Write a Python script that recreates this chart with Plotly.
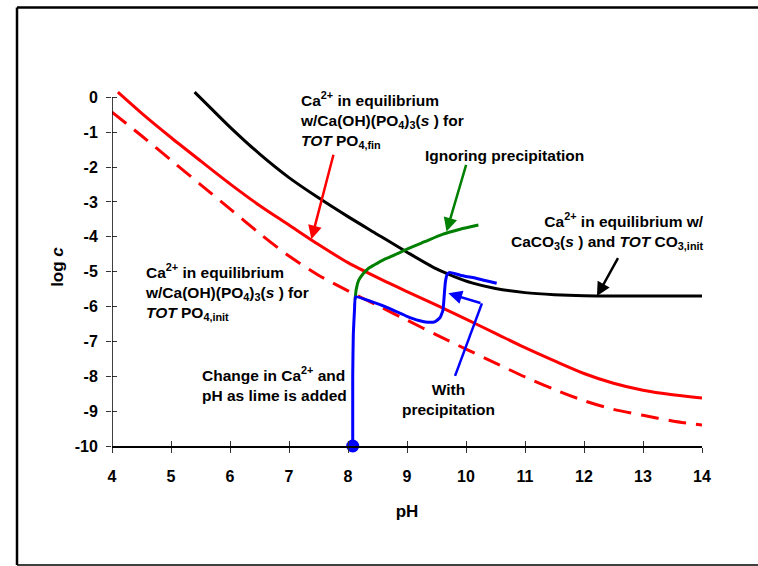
import plotly.graph_objects as go

# Ca2+ in equilibrium with CaCO3(s) and TOT CO3,init
ph_caco3 = [5.40, 5.70, 6.00, 6.50, 7.00, 7.50, 8.00, 8.50, 9.00, 9.50, 9.80, 10.10, 10.50, 11.00, 11.50, 12.00, 13.00, 14.00]
logc_caco3 = [0.15, -0.35, -0.85, -1.62, -2.30, -2.88, -3.42, -3.93, -4.44, -4.92, -5.14, -5.32, -5.48, -5.60, -5.66, -5.69, -5.70, -5.70]

# Ca2+ in equilibrium with hydroxyapatite for TOT PO4,fin
ph_po4_fin = [4.10, 4.50, 5.00, 5.50, 6.00, 6.50, 7.00, 7.50, 8.00, 8.50, 9.00, 9.50, 10.00, 10.50, 11.00, 11.50, 12.00, 12.50, 13.00, 13.50, 14.00]
logc_po4_fin = [0.15, -0.45, -1.15, -1.82, -2.48, -3.10, -3.66, -4.22, -4.74, -5.17, -5.57, -5.96, -6.36, -6.77, -7.18, -7.56, -7.92, -8.20, -8.40, -8.53, -8.62]

# Ca2+ in equilibrium with hydroxyapatite for TOT PO4,init
ph_po4_init = [4.00, 4.50, 5.00, 5.50, 6.00, 6.50, 7.00, 7.50, 8.00, 8.50, 9.00, 9.50, 10.00, 10.50, 11.00, 11.50, 12.00, 12.50, 13.00, 13.50, 14.00]
logc_po4_init = [-0.42, -1.10, -1.80, -2.50, -3.20, -3.90, -4.55, -5.10, -5.55, -5.97, -6.39, -6.81, -7.22, -7.62, -8.02, -8.38, -8.70, -8.95, -9.12, -9.28, -9.40]

# Lime addition path ignoring precipitation
ph_ignore = [8.12, 8.14, 8.18, 8.26, 8.35, 8.45, 8.60, 8.80, 9.00, 9.30, 9.60, 9.90, 10.21]
logc_ignore = [-5.80, -5.50, -5.25, -5.05, -4.90, -4.80, -4.66, -4.51, -4.35, -4.14, -3.93, -3.78, -3.66]

# Lime addition path with precipitation
ph_with = [8.08, 8.08, 8.09, 8.11, 8.13, 8.40, 8.70, 9.00, 9.20, 9.35, 9.48, 9.56, 9.61, 9.63, 9.65, 9.68, 9.72, 9.90, 10.20, 10.52]
logc_with = [-10.00, -8.00, -6.80, -6.10, -5.72, -5.86, -6.05, -6.28, -6.40, -6.45, -6.43, -6.32, -6.10, -5.70, -5.30, -5.08, -5.02, -5.10, -5.20, -5.33]

# Starting point of the lime addition
ph_start = [8.08]
logc_start = [-10.0]

x_ticks = list(range(4, 15))
y_ticks = list(range(-10, 1))
x_tick_text = [str(v) for v in x_ticks]
y_tick_text = [str(v) for v in y_ticks]

FONT = "Liberation Sans, Arial, sans-serif"
BLUE = "#0000FF"
RED = "#FF0000"
GREEN = "#008000"

fig = go.Figure()

fig.add_trace(go.Scatter(x=ph_caco3, y=logc_caco3, mode="lines",
                         line=dict(color="black", width=3, shape="spline", smoothing=0.8),
                         showlegend=False))
fig.add_trace(go.Scatter(x=ph_po4_fin, y=logc_po4_fin, mode="lines",
                         line=dict(color=RED, width=3, shape="spline", smoothing=0.8),
                         showlegend=False))
fig.add_trace(go.Scatter(x=ph_po4_init, y=logc_po4_init, mode="lines",
                         line=dict(color=RED, width=3, dash="18px,10px", shape="spline", smoothing=0.8),
                         showlegend=False))
fig.add_trace(go.Scatter(x=ph_ignore, y=logc_ignore, mode="lines",
                         line=dict(color=GREEN, width=3, shape="spline", smoothing=0.6),
                         showlegend=False))
fig.add_trace(go.Scatter(x=ph_with, y=logc_with, mode="lines",
                         line=dict(color=BLUE, width=3, shape="spline", smoothing=0.4),
                         showlegend=False))
fig.add_trace(go.Scatter(x=ph_start, y=logc_start, mode="markers",
                         marker=dict(color=BLUE, size=13), cliponaxis=False,
                         showlegend=False))
# invisible trace that carries the inward half of the crossing tick marks
fig.add_trace(go.Scatter(x=[4], y=[-10], xaxis="x2", yaxis="y2", mode="markers",
                         marker=dict(opacity=0), hoverinfo="skip", showlegend=False))

x_range = [4, 14]
y_range = [-10, 0.27]
TICKFONT = dict(size=16, family=FONT, weight="bold", color="black")

fig.update_layout(
    width=758, height=566,
    margin=dict(l=112, r=56, t=88, b=120),
    paper_bgcolor="white", plot_bgcolor="white",
    font=dict(family=FONT, color="black"),
    xaxis=dict(range=x_range, tickmode="array", tickvals=x_ticks, ticktext=x_tick_text,
               ticks="outside", ticklen=5, tickwidth=1.2, tickcolor="#333",
               showline=True, linecolor="black", linewidth=1.5, showgrid=False,
               zeroline=False, tickfont=TICKFONT, ticklabelstandoff=10,
               title=dict(text="<b>pH</b>", font=dict(size=17, family=FONT), standoff=21)),
    yaxis=dict(range=y_range, tickmode="array", tickvals=y_ticks, ticktext=y_tick_text,
               ticks="outside", ticklen=5, tickwidth=1.2, tickcolor="#333",
               showline=False, showgrid=False, zeroline=False,
               tickfont=TICKFONT, ticklabelstandoff=5,
               title=dict(text="<b>log <i>c</i></b>", font=dict(size=17, family=FONT), standoff=6)),
    xaxis2=dict(range=x_range, tickvals=x_ticks, ticks="inside", ticklen=5,
                tickwidth=1.2, tickcolor="#333", overlaying="x", anchor="y2",
                showticklabels=False, showline=False, showgrid=False, zeroline=False),
    yaxis2=dict(range=y_range, tickvals=y_ticks, ticks="inside", ticklen=5,
                tickwidth=1.2, tickcolor="#333", overlaying="y", anchor="x2",
                showticklabels=False, showline=False, showgrid=False, zeroline=False),
)

# y axis line spans only the labelled range
fig.add_shape(type="line", xref="x", yref="y", x0=4, x1=4, y0=-10, y1=0,
              line=dict(color="black", width=1.5))

# outer frame (left, top and bottom edges)
fl, ft, fb, fr = -0.161, 1.225, -0.3325, 1.10
fig.add_shape(type="line", xref="paper", yref="paper", x0=fl, x1=fl, y0=fb, y1=ft,
              line=dict(color="black", width=2.5))
fig.add_shape(type="line", xref="paper", yref="paper", x0=fl, x1=fr, y0=ft, y1=ft,
              line=dict(color="black", width=2.5))
fig.add_shape(type="line", xref="paper", yref="paper", x0=fl, x1=fr, y0=fb, y1=fb,
              line=dict(color="black", width=1.5))

# bent leader for "With precipitation"
fig.add_shape(type="line", xref="x", yref="y", x0=9.815, y0=-7.99, x1=10.27, y1=-5.91,
              line=dict(color=BLUE, width=2.5))

TXT = dict(size=15.5, family=FONT, color="black")


def label(text, x, y, xanchor="left", align="left"):
    fig.add_annotation(x=x, y=y, xref="paper", yref="paper", text=text, showarrow=False,
                       xanchor=xanchor, yanchor="middle", align=align, font=TXT)


def arrow(x_tail, y_tail, x_tip, y_tip, color):
    fig.add_annotation(x=x_tip, y=y_tip, ax=x_tail, ay=y_tail, xref="x", yref="y",
                       axref="x", ayref="y", text="", showarrow=True, arrowhead=2,
                       arrowsize=1.1, arrowwidth=2.5, arrowcolor=color, standoff=0)


label("<b>Ca<sup>2+</sup> in equilibrium<br>w/Ca(OH)(PO<sub>4</sub>)<sub>3</sub>(<i>s</i> ) for<br>"
      "<i>TOT</i> PO<sub>4,fin</sub></b>", 0.3153, 0.9106)
label("<b>Ignoring precipitation</b>", 0.5271, 0.8128)
label("<b>Ca<sup>2+</sup> in equilibrium w/<br>CaCO<sub>3</sub>(<i>s</i> ) and "
      "<i>TOT</i> CO<sub>3,init</sub></b>", 1.0068, 0.6006, xanchor="right", align="right")
label("<b>Ca<sup>2+</sup> in equilibrium<br>w/Ca(OH)(PO<sub>4</sub>)<sub>3</sub>(<i>s</i> ) for<br>"
      "<i>TOT</i> PO<sub>4,init</sub></b>", 0.0531, 0.4302)
label("<b>Change in Ca<sup>2+</sup> and<br>pH as lime is added</b>", 0.1492, 0.1732)
label("<b>With<br>precipitation</b>", 0.5703, 0.1285, xanchor="center", align="center")

arrow(7.76, -1.60, 7.38, -4.07, RED)
arrow(10.01, -1.89, 9.67, -3.85, GREEN)
arrow(12.59, -4.57, 12.22, -5.70, "black")
arrow(10.27, -5.91, 9.70, -5.62, BLUE)

fig.write_html("out.html")
